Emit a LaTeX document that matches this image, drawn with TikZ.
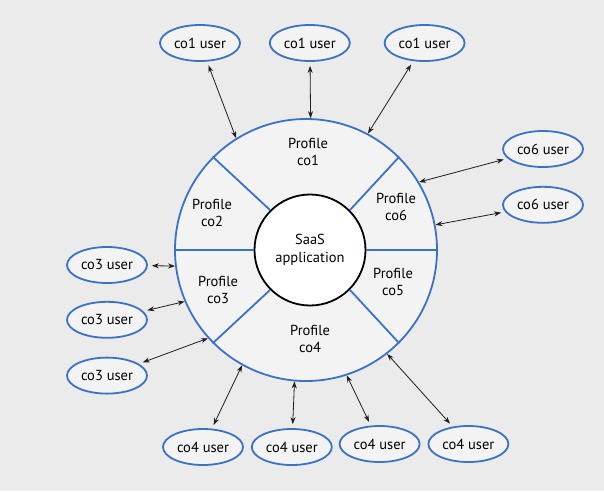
\documentclass[tikz,border=0pt]{standalone}
\usepackage{fontspec}
\setmainfont{PT Sans}
\usepackage{tikz}
\usetikzlibrary{arrows.meta,shapes,positioning}

\definecolor{saasblue}{RGB}{58,114,196}
\definecolor{backgray}{RGB}{235,235,235}
\definecolor{ringgray}{RGB}{243,243,243}
\definecolor{linkgray}{RGB}{30,30,30}

\begin{document}
\begin{tikzpicture}[
        x=1pt, y=-1pt,
        every node/.style={align=center, font=\fontsize{14.5}{17.5}\selectfont},
        user/.style={draw=saasblue, line width=1.8pt, ellipse, fill=ringgray, minimum width=80pt, minimum height=36pt, inner sep=0pt},
        link/.style={linkgray, line width=0.8pt, shorten <=4pt, {Stealth[length=7pt,width=5pt]}-{Stealth[length=7pt,width=5pt]}},
        divider/.style={draw=saasblue, line width=1.8pt}
    ]
    \fill[backgray] (0,0) rectangle (604,491);

    % Ring and hub
    \node (ring)[circle, draw=saasblue, line width=1.8pt, fill=ringgray, minimum size=262pt, inner sep=0pt] at (306,250) {};
    \node (hub)[circle, draw=black, line width=1.8pt, fill=white, minimum size=111pt, inner sep=0pt] at (310,250) {SaaS\\application};

    \foreach \a in {0,45,135,180,225,315}
        \draw[divider] (hub.\a) -- (ring.\a);

    % Profiles
    \node (pco1) at (308,152) {Profile\\co1};
    \node (pco2) at (212,213) {Profile\\co2};
    \node (pco6) at (396,207) {Profile\\co6};
    \node (pco3) at (218,290) {Profile\\co3};
    \node (pco5) at (393,282) {Profile\\co5};
    \node (pco4) at (310,339) {Profile\\co4};

    % Users
    \node (u1a)[user] at (200,43) {co1 user};
    \node (u1b)[user, right=28pt of u1a] {co1 user};
    \node (u1c)[user, right=33pt of u1b] {co1 user};

    \node (u6a)[user] at (543,149) {co6 user};
    \node (u6b)[user, below=18pt of u6a] {co6 user};

    \node (u3a)[user] at (107,265) {co3 user};
    \node (u3b)[user, below=17pt of u3a] {co3 user};
    \node (u3c)[user, below=18pt of u3b] {co3 user};

    \node (u4a)[user] at (203,447) {co4 user};
    \node (u4b)[user, right=7pt of u4a] {co4 user};
    \node (u4c)[user, right=6pt of u4b, yshift=3pt] {co4 user};
    \node (u4d)[user, right=7pt of u4c] {co4 user};

    % Edges
    \draw[link] (u1a) -- (ring.122);
    \draw[link] (u1b) -- (ring.88);
    \draw[link] (u1c) -- (ring.62);
    \draw[link] (u6a) -- (ring.31);
    \draw[link] (u6b) -- (ring.11);
    \draw[link] (u3a) -- (ring.187);
    \draw[link] (u3b) -- (ring.203);
    \draw[link] (u3c) -- (ring.222);
    \draw[link] (u4a) -- (ring.241);
    \draw[link] (u4b) -- (ring.265);
    \draw[link] (u4c) -- (ring.288);
    \draw[link] (u4d) -- (ring.308);

\end{tikzpicture}
\end{document}
